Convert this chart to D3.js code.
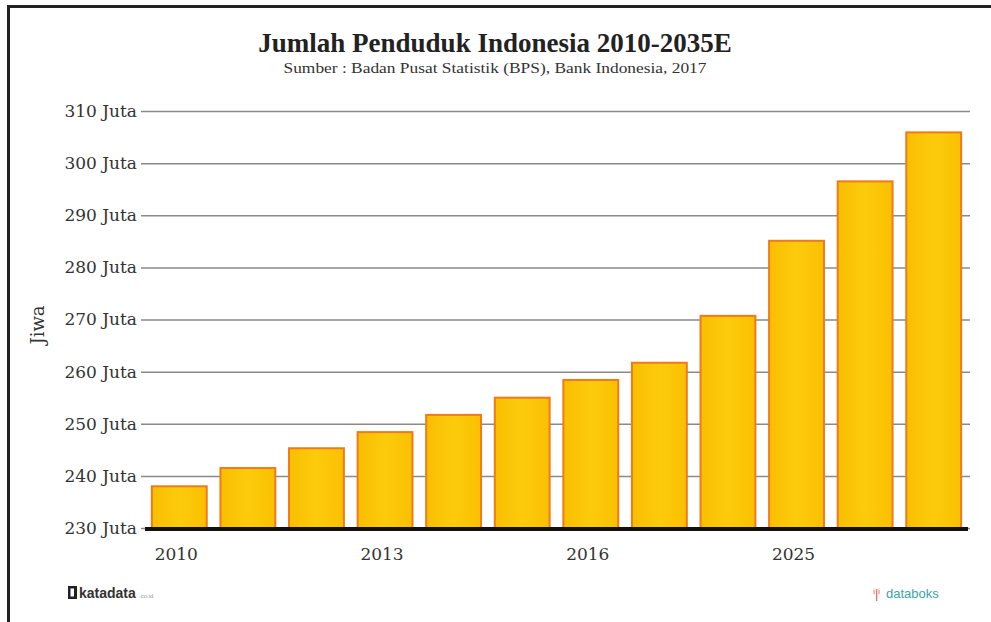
<!DOCTYPE html>
<html><head><meta charset="utf-8">
<script src="https://cdn.jsdelivr.net/npm/d3@7/dist/d3.min.js"></script>
<style>html,body{margin:0;padding:0;background:#fff;}svg{display:block;}</style>
</head><body><div id="chart"></div>
<script>
const categories = ["2010","2011","2012","2013","2014","2015","2016","2017","2020","2025","2030","2035"];
const values = [238.0, 241.5, 245.3, 248.4, 251.7, 255.0, 258.4, 261.7, 270.7, 285.1, 296.5, 305.9];
const tickValues = [230, 240, 250, 260, 270, 280, 290, 300, 310];
const xLabelShown = ["2010","2013","2016","2025"];
const title = "Jumlah Penduduk Indonesia 2010-2035E";
const subtitle = "Sumber : Badan Pusat Statistik (BPS), Bank Indonesia, 2017";

const W = 991, H = 622;
const svg = d3.select("#chart").append("svg").attr("width", W).attr("height", H);
const serif = "'Liberation Serif','DejaVu Serif',serif";
const slab = "'DejaVu Serif','Liberation Serif',serif";

// frame
svg.append("path").attr("d", `M8.5,${H} L8.5,6.5 L${W},6.5`).attr("fill","none").attr("stroke","#222").attr("stroke-width",3);

const x = d3.scaleBand().domain(categories).range([145, 968]).paddingInner(0.2).paddingOuter(0.1);
const y = d3.scaleLinear().domain([230, 310]).range([528, 111]);

svg.append("text").attr("x", 495).attr("y", 52).attr("text-anchor","middle")
  .attr("font-family", serif).attr("font-weight","bold").attr("font-size",27).attr("fill","#222").text(title);
svg.append("text").attr("x", 495).attr("y", 73).attr("text-anchor","middle")
  .attr("font-family", serif).attr("font-size",15.5).attr("fill","#333")
  .attr("textLength",423).attr("lengthAdjust","spacingAndGlyphs").text(subtitle);

// gridlines + y labels
const yAxis = d3.axisLeft(y).tickValues(tickValues).tickSize(-(970-145)).tickPadding(6)
  .tickFormat(d => d + " Juta");
const gy = svg.append("g").attr("transform","translate(145,0)").call(yAxis);
gy.select(".domain").remove();
gy.selectAll(".tick line").attr("stroke","#8a8a8a").attr("stroke-width",1.5).attr("x1",-4);
gy.selectAll(".tick text").attr("font-family", slab).attr("font-size",17).attr("fill","#333").attr("x",-8);

svg.append("text").attr("transform","translate(44,325) rotate(-90)").attr("text-anchor","middle")
  .attr("font-family", slab).attr("font-size",18).attr("fill","#333").text("Jiwa");

// gradient
const defs = svg.append("defs");
const gr = defs.append("linearGradient").attr("id","bg").attr("x1","0").attr("x2","1").attr("y1","0").attr("y2","0");
gr.append("stop").attr("offset","0%").attr("stop-color","#F9BE00");
gr.append("stop").attr("offset","50%").attr("stop-color","#FDCB0C");
gr.append("stop").attr("offset","100%").attr("stop-color","#F9C000");

svg.append("g").selectAll("rect").data(values).join("rect")
  .attr("x", (d,i) => x(categories[i]))
  .attr("y", d => y(d))
  .attr("width", x.bandwidth())
  .attr("height", d => y(230) - y(d))
  .attr("fill","url(#bg)").attr("stroke","#F07A1A").attr("stroke-width",2);

// baseline
svg.append("line").attr("x1",145).attr("x2",968).attr("y1",y(230)+1).attr("y2",y(230)+1)
  .attr("stroke","#111").attr("stroke-width",4);

// x labels
const xAxis = d3.axisBottom(x).tickSize(0).tickPadding(18)
  .tickFormat(d => xLabelShown.includes(d) ? d : "");
const gx = svg.append("g").attr("transform",`translate(0,${y(230)+2})`).call(xAxis);
gx.select(".domain").remove();
gx.selectAll(".tick text").attr("font-family", slab).attr("font-size",17).attr("fill","#333")
  .attr("dx", -3);

// logos
svg.append("rect").attr("x",68).attr("y",586).attr("width",9).attr("height",13).attr("fill","#222");
svg.append("rect").attr("x",70.5).attr("y",588.5).attr("width",3.5).attr("height",8).attr("fill","#fff");
svg.append("text").attr("x",79).attr("y",598).attr("font-family","'Liberation Sans',Arial,sans-serif")
  .attr("font-size",14).attr("font-weight","bold").attr("fill","#333").text("katadata");
svg.append("text").attr("x",139).attr("y",598).attr("font-family","'Liberation Sans',Arial,sans-serif")
  .attr("font-size",6).attr("fill","#999").text(".co.id");
svg.append("text").attr("x",873).attr("y",598).attr("font-family","'Liberation Sans',Arial,sans-serif")
  .attr("font-size",13).attr("fill","#E0583A").text("ⁱ|ⁱ");
svg.append("text").attr("x",886).attr("y",598).attr("font-family","'Liberation Sans',Arial,sans-serif")
  .attr("font-size",13).attr("fill","#3aa5a8").text("databoks");
</script></body></html>
